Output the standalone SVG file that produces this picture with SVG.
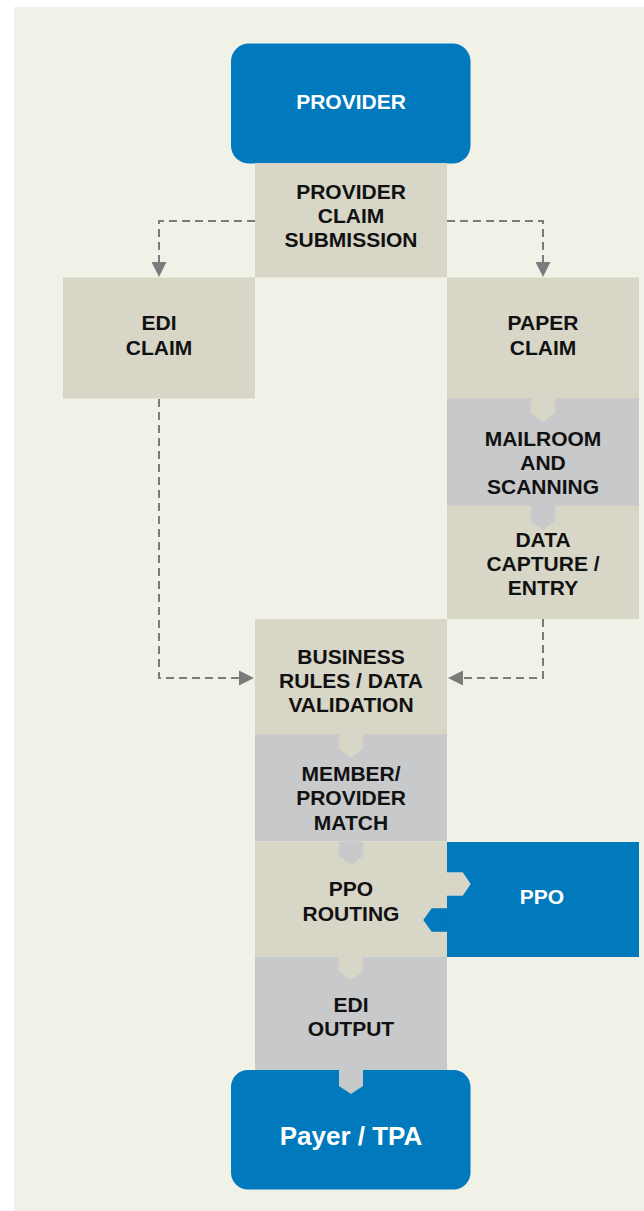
<svg xmlns="http://www.w3.org/2000/svg" width="644" height="1211" viewBox="0 0 644 1211">
<style>
.t{font-family:"Liberation Sans",Arial,sans-serif;font-weight:bold;font-size:21px;fill:#111;text-anchor:middle}
.w{fill:#fff}
.blue{fill:#0079BD}
.tan{fill:#D7D6C7}
.gray{fill:#C8C9CB}
.dash{fill:none;stroke:#7B7B7B;stroke-width:2;stroke-dasharray:8 5}
.ah{fill:#7B7B7B}
</style>
<rect x="0" y="0" width="644" height="1211" fill="#ffffff"/>
<rect x="14" y="7" width="630" height="1204" fill="#F1F2E7"/>

<g id="provider">
<rect class="blue" x="231" y="43.5" width="239.5" height="120" rx="18"/>
<text class="t w" x="351" y="109">PROVIDER</text>
</g>

<g id="submission">
<rect class="tan" x="255" y="163" width="192" height="114.5"/>
<text class="t" x="351" y="199">PROVIDER</text>
<text class="t" x="351" y="223">CLAIM</text>
<text class="t" x="351" y="247">SUBMISSION</text>
</g>

<g id="edi-claim">
<rect class="tan" x="63" y="277.5" width="192" height="121"/>
<text class="t" x="159" y="330">EDI</text>
<text class="t" x="159" y="355">CLAIM</text>
</g>

<g id="paper-claim">
<rect class="tan" x="447" y="277.5" width="192" height="121"/>
<text class="t" x="543" y="330">PAPER</text>
<text class="t" x="543" y="355">CLAIM</text>
</g>

<g id="mailroom">
<rect class="gray" x="447" y="398" width="192" height="108"/>
<path class="tan" d="M531 398H555V413L543 422L531 413Z"/>
<text class="t" x="543" y="446">MAILROOM</text>
<text class="t" x="543" y="470">AND</text>
<text class="t" x="543" y="494">SCANNING</text>
</g>

<g id="data-capture">
<rect class="tan" x="447" y="506" width="192" height="113"/>
<path class="gray" d="M531 506H555V521L543 530L531 521Z"/>
<text class="t" x="543" y="547">DATA</text>
<text class="t" x="543" y="571">CAPTURE /</text>
<text class="t" x="543" y="595">ENTRY</text>
</g>

<g id="business-rules">
<rect class="tan" x="255" y="619" width="192" height="115"/>
<text class="t" x="351" y="663.5">BUSINESS</text>
<text class="t" x="351" y="687.5">RULES / DATA</text>
<text class="t" x="351" y="711.5">VALIDATION</text>
</g>

<g id="member-match">
<rect class="gray" x="255" y="734" width="192" height="107.5"/>
<path class="tan" d="M339 734H363V748.5L351 757.5L339 748.5Z"/>
<text class="t" x="351" y="781">MEMBER/</text>
<text class="t" x="351" y="805">PROVIDER</text>
<text class="t" x="351" y="829.5">MATCH</text>
</g>

<g id="ppo-routing">
<rect class="tan" x="255" y="841.5" width="192" height="115"/>
<path class="gray" d="M339 841.5H363V856L351 865L339 856Z"/>
<text class="t" x="351" y="896">PPO</text>
<text class="t" x="351" y="921">ROUTING</text>
</g>

<g id="ppo">
<rect class="blue" x="447" y="842" width="192" height="115"/>
<path class="tan" d="M447 872.3H462.7L470.7 884L462.7 895.7H447Z"/>
<text class="t w" x="542" y="903.5">PPO</text>
</g>
<path class="blue" d="M447.5 908.3H431.7L423.3 920L431.7 931.7H447.5Z"/>

<g id="edi-output">
<rect class="gray" x="255" y="956.5" width="192" height="113.5"/>
<path class="tan" d="M339 956.5H363V971L351 980L339 971Z"/>
<text class="t" x="351" y="1012">EDI</text>
<text class="t" x="351" y="1036">OUTPUT</text>
</g>

<g id="payer">
<rect class="blue" x="231" y="1070" width="239.5" height="119.5" rx="17"/>
<path class="gray" d="M339 1069H363V1086L351 1094L339 1086Z"/>
<text class="t w" x="351" y="1144.5" style="font-size:26px">Payer / TPA</text>
</g>

<g id="connectors">
<path class="dash" d="M255 221H159V263"/>
<path class="ah" d="M151.5 262H166.5L159 277Z"/>
<path class="dash" d="M447 221H543V263"/>
<path class="ah" d="M535.5 262H550.5L543 277Z"/>
<path class="dash" d="M159 399V678H240"/>
<path class="ah" d="M239 670.5V685.5L254 678Z"/>
<path class="dash" d="M543 619V678H462"/>
<path class="ah" d="M463 670.5V685.5L448 678Z"/>
</g>
</svg>
